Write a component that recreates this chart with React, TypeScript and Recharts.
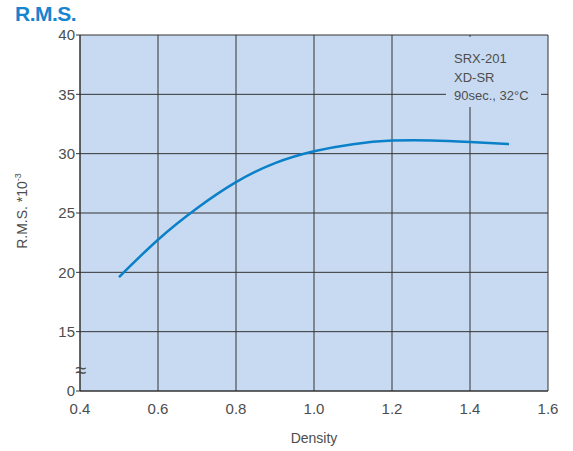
import React from 'react';
import {
  CartesianGrid,
  Customized,
  Line,
  LineChart,
  XAxis,
  YAxis,
} from 'recharts';

// Density values along the curve
const densities = [0.5, 0.6, 0.7, 0.8, 0.9, 1.0, 1.1, 1.2, 1.3, 1.4, 1.5];
// R.M.S. *10^-3
const rmsValues = [19.6, 22.75, 25.4, 27.6, 29.2, 30.2, 30.8, 31.1, 31.12, 30.98, 30.8];

const xTicks = [0.4, 0.6, 0.8, 1.0, 1.2, 1.4, 1.6];
const yTicks = [10, 15, 20, 25, 30, 35, 40];
const noteLines = ['SRX-201', 'XD-SR', '90sec., 32°C'];

const data = densities.map((d, i) => ({ density: d, rms: rmsValues[i] }));

const FONT = '"Liberation Sans", Arial, Helvetica, sans-serif';
const PLOT_BG = '#c8daf1';
const TEXT = '#4d4d4d';

// Note box in the top right corner, drawn over the grid
const NoteBox = () => (
  <g>
    <rect x={446} y={37} width={95} height={70} fill={PLOT_BG} />
    {noteLines.map((t, i) => (
      <text
        key={t}
        x={454}
        y={63 + i * 18.5}
        fontSize={13}
        fill={TEXT}
        fontFamily={FONT}
      >
        {t}
      </text>
    ))}
    {/* axis break mark */}
    <text
      x={81}
      y={377}
      fontSize={20}
      fill={TEXT}
      fontFamily={FONT}
      textAnchor="middle"
    >
      ≈
    </text>
  </g>
);

const YLabel = () => (
  <text
    transform="translate(27, 211) rotate(-90)"
    textAnchor="middle"
    fontSize={14}
    fill={TEXT}
    fontFamily={FONT}
  >
    R.M.S. *10
    <tspan dy={-6} fontSize={9}>
      -3
    </tspan>
  </text>
);

export default function App() {
  return (
    <div
      style={{
        position: 'absolute',
        left: 0,
        top: 0,
        width: 573,
        height: 451,
        background: '#fff',
        fontFamily: FONT,
      }}
    >
      <div
        style={{
          position: 'absolute',
          left: 15,
          top: 2,
          fontSize: 21,
          lineHeight: '24px',
          fontWeight: 'bold',
          color: '#1784cf',
          letterSpacing: -0.5,
        }}
      >
        R.M.S.
      </div>
      <LineChart
        width={573}
        height={451}
        data={data}
        margin={{ top: 35, right: 25, bottom: 30, left: 20 }}
      >
        <CartesianGrid
          fill={PLOT_BG}
          stroke="#333"
          strokeWidth={1}
          horizontalValues={yTicks}
          verticalValues={xTicks}
        />
        <XAxis
          dataKey="density"
          type="number"
          domain={[0.4, 1.6]}
          ticks={xTicks}
          tickFormatter={(v: number) => v.toFixed(1)}
          tickLine={false}
          axisLine={{ stroke: '#333' }}
          tick={{ fontSize: 15, fill: TEXT, fontFamily: FONT }}
          tickMargin={6}
          height={30}
          label={{
            value: 'Density',
            position: 'insideBottom',
            offset: -22,
            fontSize: 14,
            fill: TEXT,
            fontFamily: FONT,
          }}
        />
        <YAxis
          type="number"
          domain={[10, 40]}
          ticks={yTicks}
          tickFormatter={(v: number) => (v === 10 ? '0' : String(v))}
          width={60}
          tickSize={4}
          tickMargin={1}
          tickLine={{ stroke: '#333' }}
          axisLine={{ stroke: '#333' }}
          tick={{ fontSize: 15, fill: TEXT, fontFamily: FONT }}
          allowDataOverflow
        />
        <Line
          type="natural"
          dataKey="rms"
          stroke="#0a80c9"
          strokeWidth={2.5}
          dot={false}
          isAnimationActive={false}
        />
        <Customized component={NoteBox} />
        <Customized component={YLabel} />
      </LineChart>
    </div>
  );
}
